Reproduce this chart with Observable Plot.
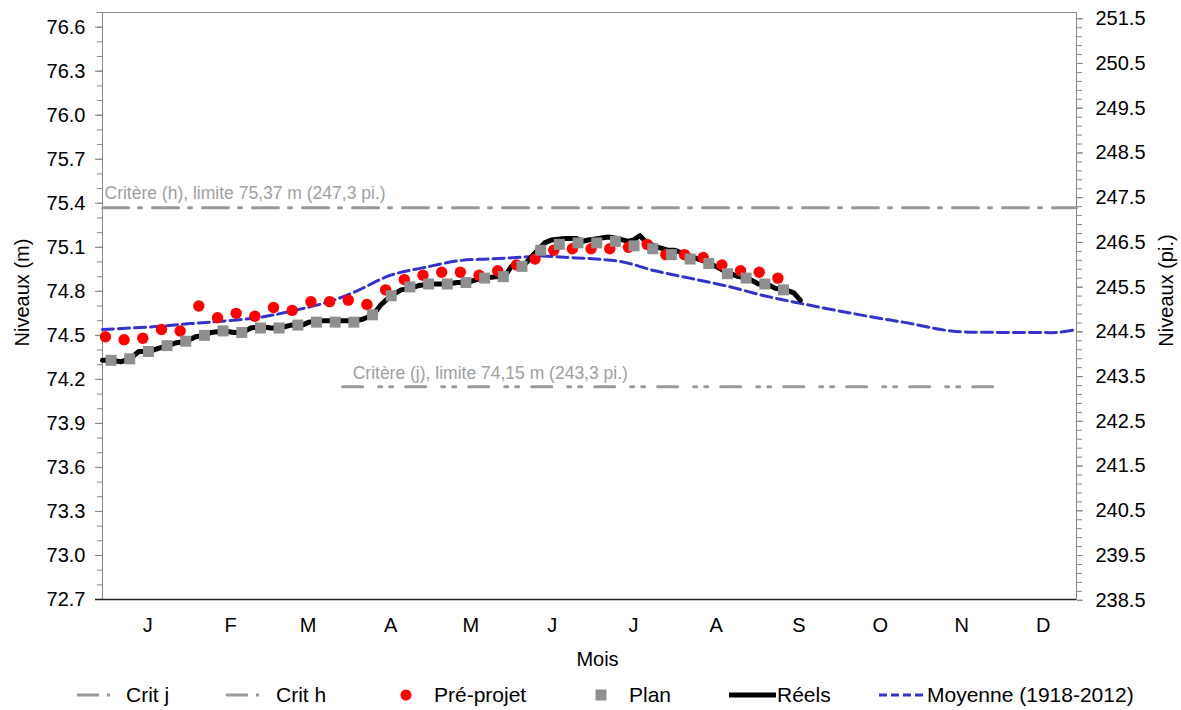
<!DOCTYPE html>
<html><head><meta charset="utf-8">
<script src="https://cdn.jsdelivr.net/npm/d3@7"></script>
<script src="https://cdn.jsdelivr.net/npm/@observablehq/plot@0.6"></script>
<style>
body{margin:0;background:#fff;font-family:"Liberation Sans",Arial,sans-serif;}
#chart{width:1181px;}
#legend{display:block;}
</style></head><body><div id="chart"></div>
<script>
// ---- data ----
const monthLabels = ["J","F","M","A","M","J","J","A","S","O","N","D"];
const monthDays = [17,48,77,108,138,168.5,199,230,261,291.5,322,352.5];

const leftTicks = [72.7,73.0,73.3,73.6,73.9,74.2,74.5,74.8,75.1,75.4,75.7,76.0,76.3,76.6];
const rightTicksFt = [238.5,239.5,240.5,241.5,242.5,243.5,244.5,245.5,246.5,247.5,248.5,249.5,250.5,251.5];

const critH = 75.37, critJ = 74.15;
const critHDays = [0, 365];
const critJDays = [90, 334.5];

// weekly series (week index -> day of year)
const preProjetFirstDay = 1.1;
const planFirstDay = 3.2;
const preProjet = [74.49,74.47,74.48,74.54,74.53,74.70,74.62,74.65,74.63,74.69,74.67,74.73,74.73,74.74,74.71,74.81,
  74.88,74.91,74.93,74.93,74.91,74.94,74.98,75.02,75.08,75.09,75.09,75.09,75.10,75.12,75.05,75.05,75.03,74.98,74.94,74.93,74.89];
const plan = [74.33,74.34,74.39,74.43,74.46,74.50,74.53,74.52,74.55,74.55,74.57,74.59,74.59,74.59,74.64,74.77,
  74.83,74.85,74.85,74.86,74.89,74.90,74.97,75.08,75.12,75.13,75.13,75.14,75.11,75.09,75.05,75.02,74.99,74.92,74.89,74.85,74.81];

const reelsDays = [0,3.4,6.8,10.3,13.6,17.2,20.7,24.3,27.8,31.4,34.9,38.4,40.6,45.6,49.3,52.5,55.6,59.3,63.1,66.5,70.6,73.7,77.4,80.6,87.5,91.3,94.6,97.5,101.5,104.4,108.1,111.9,115.3,118.7,122.5,129.4,132.9,136.6,140.1,143.2,147.2,150.7,153.2,157.6,162.0,165.7,168.2,173.2,177.6,179.9,182.0,185.9,189.5,193.0,197.0,199.0,201.4,203.9,208.3,211.8,214.5,218.9,223.3,226.4,230.8,233.9,238.3,241.8,245.8,249.0,252.1,256.1,259.0,261.5];
const reelsValues = [74.33,74.33,74.32,74.34,74.39,74.39,74.41,74.43,74.45,74.46,74.49,74.50,74.52,74.53,74.52,74.52,74.55,74.56,74.55,74.55,74.57,74.56,74.59,74.60,74.60,74.60,74.60,74.61,74.64,74.71,74.77,74.81,74.82,74.84,74.85,74.85,74.86,74.86,74.88,74.89,74.90,74.90,74.97,74.97,75.06,75.13,75.15,75.16,75.16,75.14,75.15,75.16,75.17,75.16,75.14,75.15,75.18,75.13,75.10,75.08,75.08,75.05,75.02,75.00,74.96,74.93,74.90,74.89,74.85,74.85,74.82,74.81,74.79,74.74];

const moyenneDays = [0,20,33,40,58,72,85,95,108,120,134,145,155,165,175,185,195,207,220,233,248,261,275,290,300,318,335,350,358,365];
const moyenneValues = [74.54,74.56,74.58,74.59,74.62,74.67,74.73,74.80,74.91,74.96,75.01,75.02,75.03,75.04,75.03,75.02,75.00,74.94,74.89,74.84,74.77,74.72,74.67,74.62,74.59,74.53,74.52,74.52,74.52,74.54];

// ---- tables ----
const preTable = preProjet.map((v,i)=>({day: preProjetFirstDay + 7*i, v}));
const planTable = plan.map((v,i)=>({day: planFirstDay + 7*i, v}));
const reelsTable = reelsDays.map((d,i)=>({day:d, v:reelsValues[i]}));
const moyTable = moyenneDays.map((d,i)=>({day:d, v:moyenneValues[i]}));
const critHTable = critHDays.map(d=>({day:d, v:critH}));
const critJTable = critJDays.map(d=>({day:d, v:critJ}));

const FT = 0.3048;
const minorLeft = d3.range(727, 767.5, 1).map(k=>k/10);
const minorRight = d3.range(2385, 2516, 2).map(k=>k/10*FT);

const gray = "#999999";
const axisGray = "#868686";

const plot = Plot.plot({
  width: 1181,
  height: 675,
  marginLeft: 102,
  marginRight: 105,
  marginTop: 12,
  marginBottom: 76,
  style: {fontSize: "20px", fontFamily: "'Liberation Sans', Arial, sans-serif", color: "black", background: "white", overflow: "visible"},
  x: {domain: [0, 365]},
  y: {domain: [72.7, 76.7]},
  marks: [
    Plot.frame({stroke: axisGray}),
    Plot.axisY(minorLeft, {anchor: "left", tickSize: 5, stroke: axisGray, tickFormat: () => "", label: null}),
    Plot.axisY(leftTicks, {anchor: "left", tickSize: 7, tickPadding: 10, stroke: axisGray, tickFormat: d => d.toFixed(1), label: null}),
    Plot.axisY(minorRight, {anchor: "right", tickSize: 5, stroke: axisGray, tickFormat: () => "", label: null}),
    Plot.axisY(rightTicksFt.map(f => f*FT), {anchor: "right", tickSize: 6, tickPadding: 13, stroke: axisGray, tickFormat: m => (m/FT).toFixed(1), label: null}),
    Plot.axisX(monthDays, {anchor: "bottom", tickSize: 0, tickPadding: 18, tickFormat: d => monthLabels[monthDays.indexOf(d)], label: null}),
    Plot.ruleY([72.7], {stroke: "#222", strokeWidth: 1.3, insetLeft: -7}),
    Plot.text(["Niveaux (m)"], {frameAnchor: "left", textAnchor: "middle", dx: -80, dy: -13.5, rotate: -90, fontSize: 20}),
    Plot.text(["Niveaux (pi.)"], {frameAnchor: "right", textAnchor: "middle", dx: 90, dy: -15.5, rotate: -90, fontSize: 20}),
    Plot.text(["Mois"], {frameAnchor: "bottom", dx: 8, dy: 66, fontSize: 20}),
    // criteria
    Plot.line(critHTable, {x: "day", y: "v", stroke: gray, strokeWidth: 3, strokeDasharray: "26,10,3,11"}),
    Plot.line(critJTable, {x: "day", y: "v", stroke: gray, strokeWidth: 3, strokeDasharray: "20,16,3,8,3,13"}),
    Plot.text([{day: critHDays[0], v: critH}], {x: "day", y: "v", text: () => "Critère (h), limite 75,37 m (247,3 pi.)", textAnchor: "start", dx: 2, dy: -14, fill: "#a0a0a0", fontSize: 17.5}),
    Plot.text([{day: critJDays[0], v: critJ}], {x: "day", y: "v", text: () => "Critère (j), limite 74,15 m (243,3 pi.)", textAnchor: "start", dx: 10, dy: -13, fill: "#a0a0a0", fontSize: 17.5}),
    // series
    Plot.line(moyTable, {x: "day", y: "v", stroke: "#3333cc", strokeWidth: 3, strokeDasharray: "11,5", curve: "catmull-rom"}),
    Plot.line(reelsTable, {x: "day", y: "v", stroke: "black", strokeWidth: 5, strokeLinejoin: "round", strokeLinecap: "round"}),
    Plot.dot(preTable, {x: "day", y: "v", r: 5.7, fill: "#ff0000", stroke: "none"}),
    Plot.dot(planTable, {x: "day", y: "v", r: 6.2, symbol: "square", fill: "#8f8f8f", stroke: "none"})
  ]
});
document.getElementById("chart").appendChild(plot);

// legend
const legendItems = [
  {label: "Crit j", kind: "critj", sx: 77, tx: 126},
  {label: "Crit h", kind: "crith", sx: 226, tx: 276},
  {label: "Pré-projet", kind: "dot", sx: 406, tx: 434},
  {label: "Plan", kind: "square", sx: 601, tx: 629},
  {label: "Réels", kind: "line", sx: 729, tx: 777},
  {label: "Moyenne (1918-2012)", kind: "dash", sx: 879, tx: 927}
];
const lg = d3.select("#chart").append("svg").attr("id","legend").attr("width",1181).attr("height",35)
  .style("font-family","'Liberation Sans', Arial, sans-serif").style("font-size","21px");
const cy = 20;
for (const it of legendItems) {
  if (it.kind === "critj" || it.kind === "crith") {
    lg.append("line").attr("x1", it.sx).attr("x2", it.sx+22).attr("y1", cy).attr("y2", cy).attr("stroke", gray).attr("stroke-width", 3);
    lg.append("line").attr("x1", it.sx+30).attr("x2", it.sx+33).attr("y1", cy).attr("y2", cy).attr("stroke", gray).attr("stroke-width", 3);
  } else if (it.kind === "dot") {
    lg.append("circle").attr("cx", it.sx).attr("cy", cy).attr("r", 5.5).attr("fill", "#ff0000");
  } else if (it.kind === "square") {
    lg.append("rect").attr("x", it.sx-5.5).attr("y", cy-5.5).attr("width", 11).attr("height", 11).attr("fill", "#8f8f8f");
  } else if (it.kind === "line") {
    lg.append("line").attr("x1", it.sx).attr("x2", it.sx+47).attr("y1", cy).attr("y2", cy).attr("stroke", "black").attr("stroke-width", 5);
  } else {
    lg.append("line").attr("x1", it.sx).attr("x2", it.sx+46).attr("y1", cy).attr("y2", cy).attr("stroke", "#3333cc").attr("stroke-width", 3).attr("stroke-dasharray", "8,4");
  }
  lg.append("text").attr("x", it.tx).attr("y", cy).attr("dy", "0.35em").text(it.label);
}
</script></body></html>
